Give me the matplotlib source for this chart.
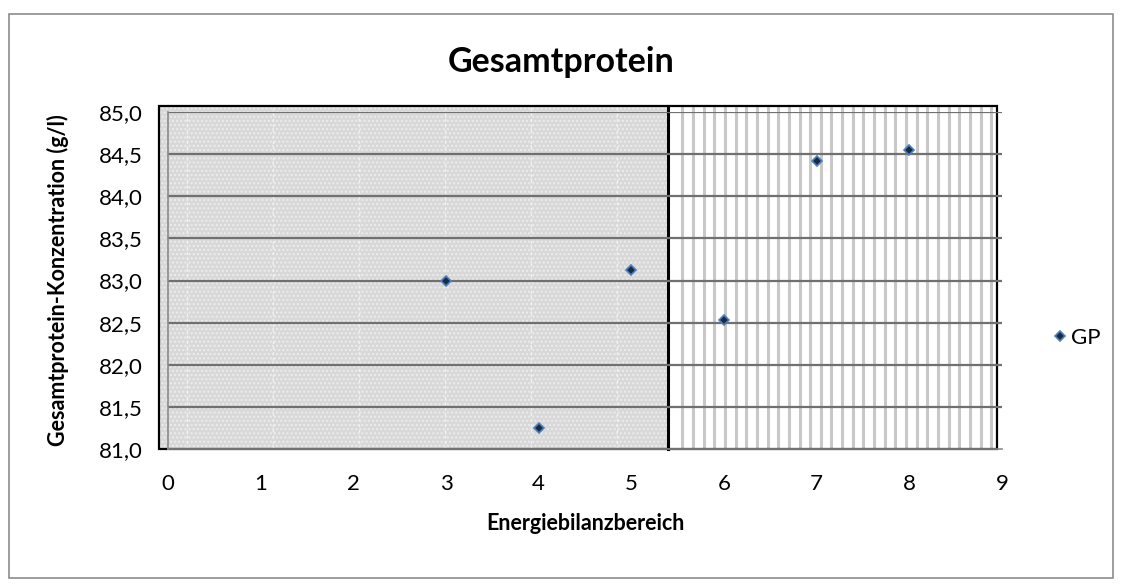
import numpy as np
import matplotlib
matplotlib.use("Agg")
import matplotlib.pyplot as plt
from matplotlib.patches import Rectangle

# Data
x_vals = [3, 4, 5, 6, 7, 8]
gp_vals = [83.00, 81.25, 83.12, 82.53, 84.42, 84.55]
series_name = "GP"
title = "Gesamtprotein"
xlabel = "Energiebilanzbereich"
ylabel = "Gesamtprotein-Konzentration (g/l)"
x_ticks = list(range(0, 10))
y_ticks = [81.0, 81.5, 82.0, 82.5, 83.0, 83.5, 84.0, 84.5, 85.0]
divider_x = 5.4

plt.rcParams['font.family'] = ['Lato', 'DejaVu Sans']

W, H = 1123, 586
fig = plt.figure(figsize=(W/100, H/100), dpi=100)
ax = fig.add_axes([168/W, 1-449/H, (1002-168)/W, (449-112)/H])

# figure border
fig.patches.append(Rectangle((9/W, 1-578/H), (1113-9)/W, (578-14)/H,
                             transform=fig.transFigure, fill=False,
                             edgecolor='#8c8c8c', linewidth=1.2))

ax.set_xlim(0, 9)
ax.set_ylim(81, 85)

# background image-like areas
x0, x1 = -0.097, 8.95
ytop = 85.075
ax.add_patch(Rectangle((x0, 81), divider_x - x0, ytop - 81, facecolor='#d8d8d8',
                       edgecolor='none', zorder=0, clip_on=False))
ax.add_patch(Rectangle((x0, 81), divider_x - x0, ytop - 81, facecolor='none',
                       edgecolor='#ededed', hatch='....', linewidth=0, zorder=0.1, clip_on=False))
ax.add_patch(Rectangle((divider_x, 81), x1 - divider_x, ytop - 81, facecolor='white',
                       edgecolor='none', zorder=0, clip_on=False))
# stripes in right area
for sx in np.arange(divider_x + 0.15, x1, 0.115):
    ax.plot([sx, sx], [81, ytop], color='#c8c8c8', lw=2.2, zorder=0.2,
            solid_capstyle='butt', clip_on=False)
# dashed light lines in left area
for sx in np.arange(0.2, divider_x, 0.93):
    ax.plot([sx, sx], [81, ytop], color='#f2f2f2', lw=1.0, ls=(0, (2, 2)), zorder=0.2, clip_on=False)
ax.add_patch(Rectangle((x0, 81), x1 - x0, ytop - 81, facecolor='none',
                       edgecolor='black', linewidth=1.6, zorder=0.3, clip_on=False))
ax.plot([divider_x, divider_x], [81, ytop], color='black', lw=2.2, zorder=0.3, clip_on=False)

# grid lines
for yv in y_ticks[1:]:
    ax.axhline(yv, color='#707070', lw=1.6, zorder=1)

ax.set_facecolor('none')
for s in ['top', 'right']:
    ax.spines[s].set_visible(False)
ax.spines['left'].set_color('#8a8a8a')
ax.spines['bottom'].set_color('#8a8a8a')
ax.spines['left'].set_linewidth(1.2)
ax.spines['bottom'].set_linewidth(1.2)

ax.plot(x_vals, gp_vals, linestyle='none', marker='D', markersize=5,
        markerfacecolor='#1c2a44', markeredgecolor='#4f81bd', markeredgewidth=1.2,
        zorder=3, clip_on=False, label=series_name)

ax.set_xticks(x_ticks)
ax.set_yticks(y_ticks)
ax.set_yticklabels([f"{v:.1f}".replace('.', ',') for v in y_ticks])
ax.tick_params(axis='both', length=0, labelsize=16, colors='black')
ax.tick_params(axis='y', pad=18.5)
ax.tick_params(axis='x', pad=18)

fig.text(561/W, 1-62/H, title, fontsize=24.5, fontweight='bold', ha='center', va='center')
ax.set_xlabel(xlabel, fontsize=15.5, fontweight='bold')
ax.xaxis.set_label_coords(0.5, (449-523)/337)
ax.xaxis.label.set_va('center')
ax.set_ylabel(ylabel, fontsize=15.5, fontweight='bold')
ax.yaxis.set_label_coords((58-168)/834, 0.5)
ax.yaxis.label.set_va('center')

leg = fig.legend(loc='center left', bbox_to_anchor=(1040/W, 1-338/H), frameon=False,
                 fontsize=16, handletextpad=0.1, handlelength=0.8, borderpad=0)

fig.savefig('out.png', dpi=100)
